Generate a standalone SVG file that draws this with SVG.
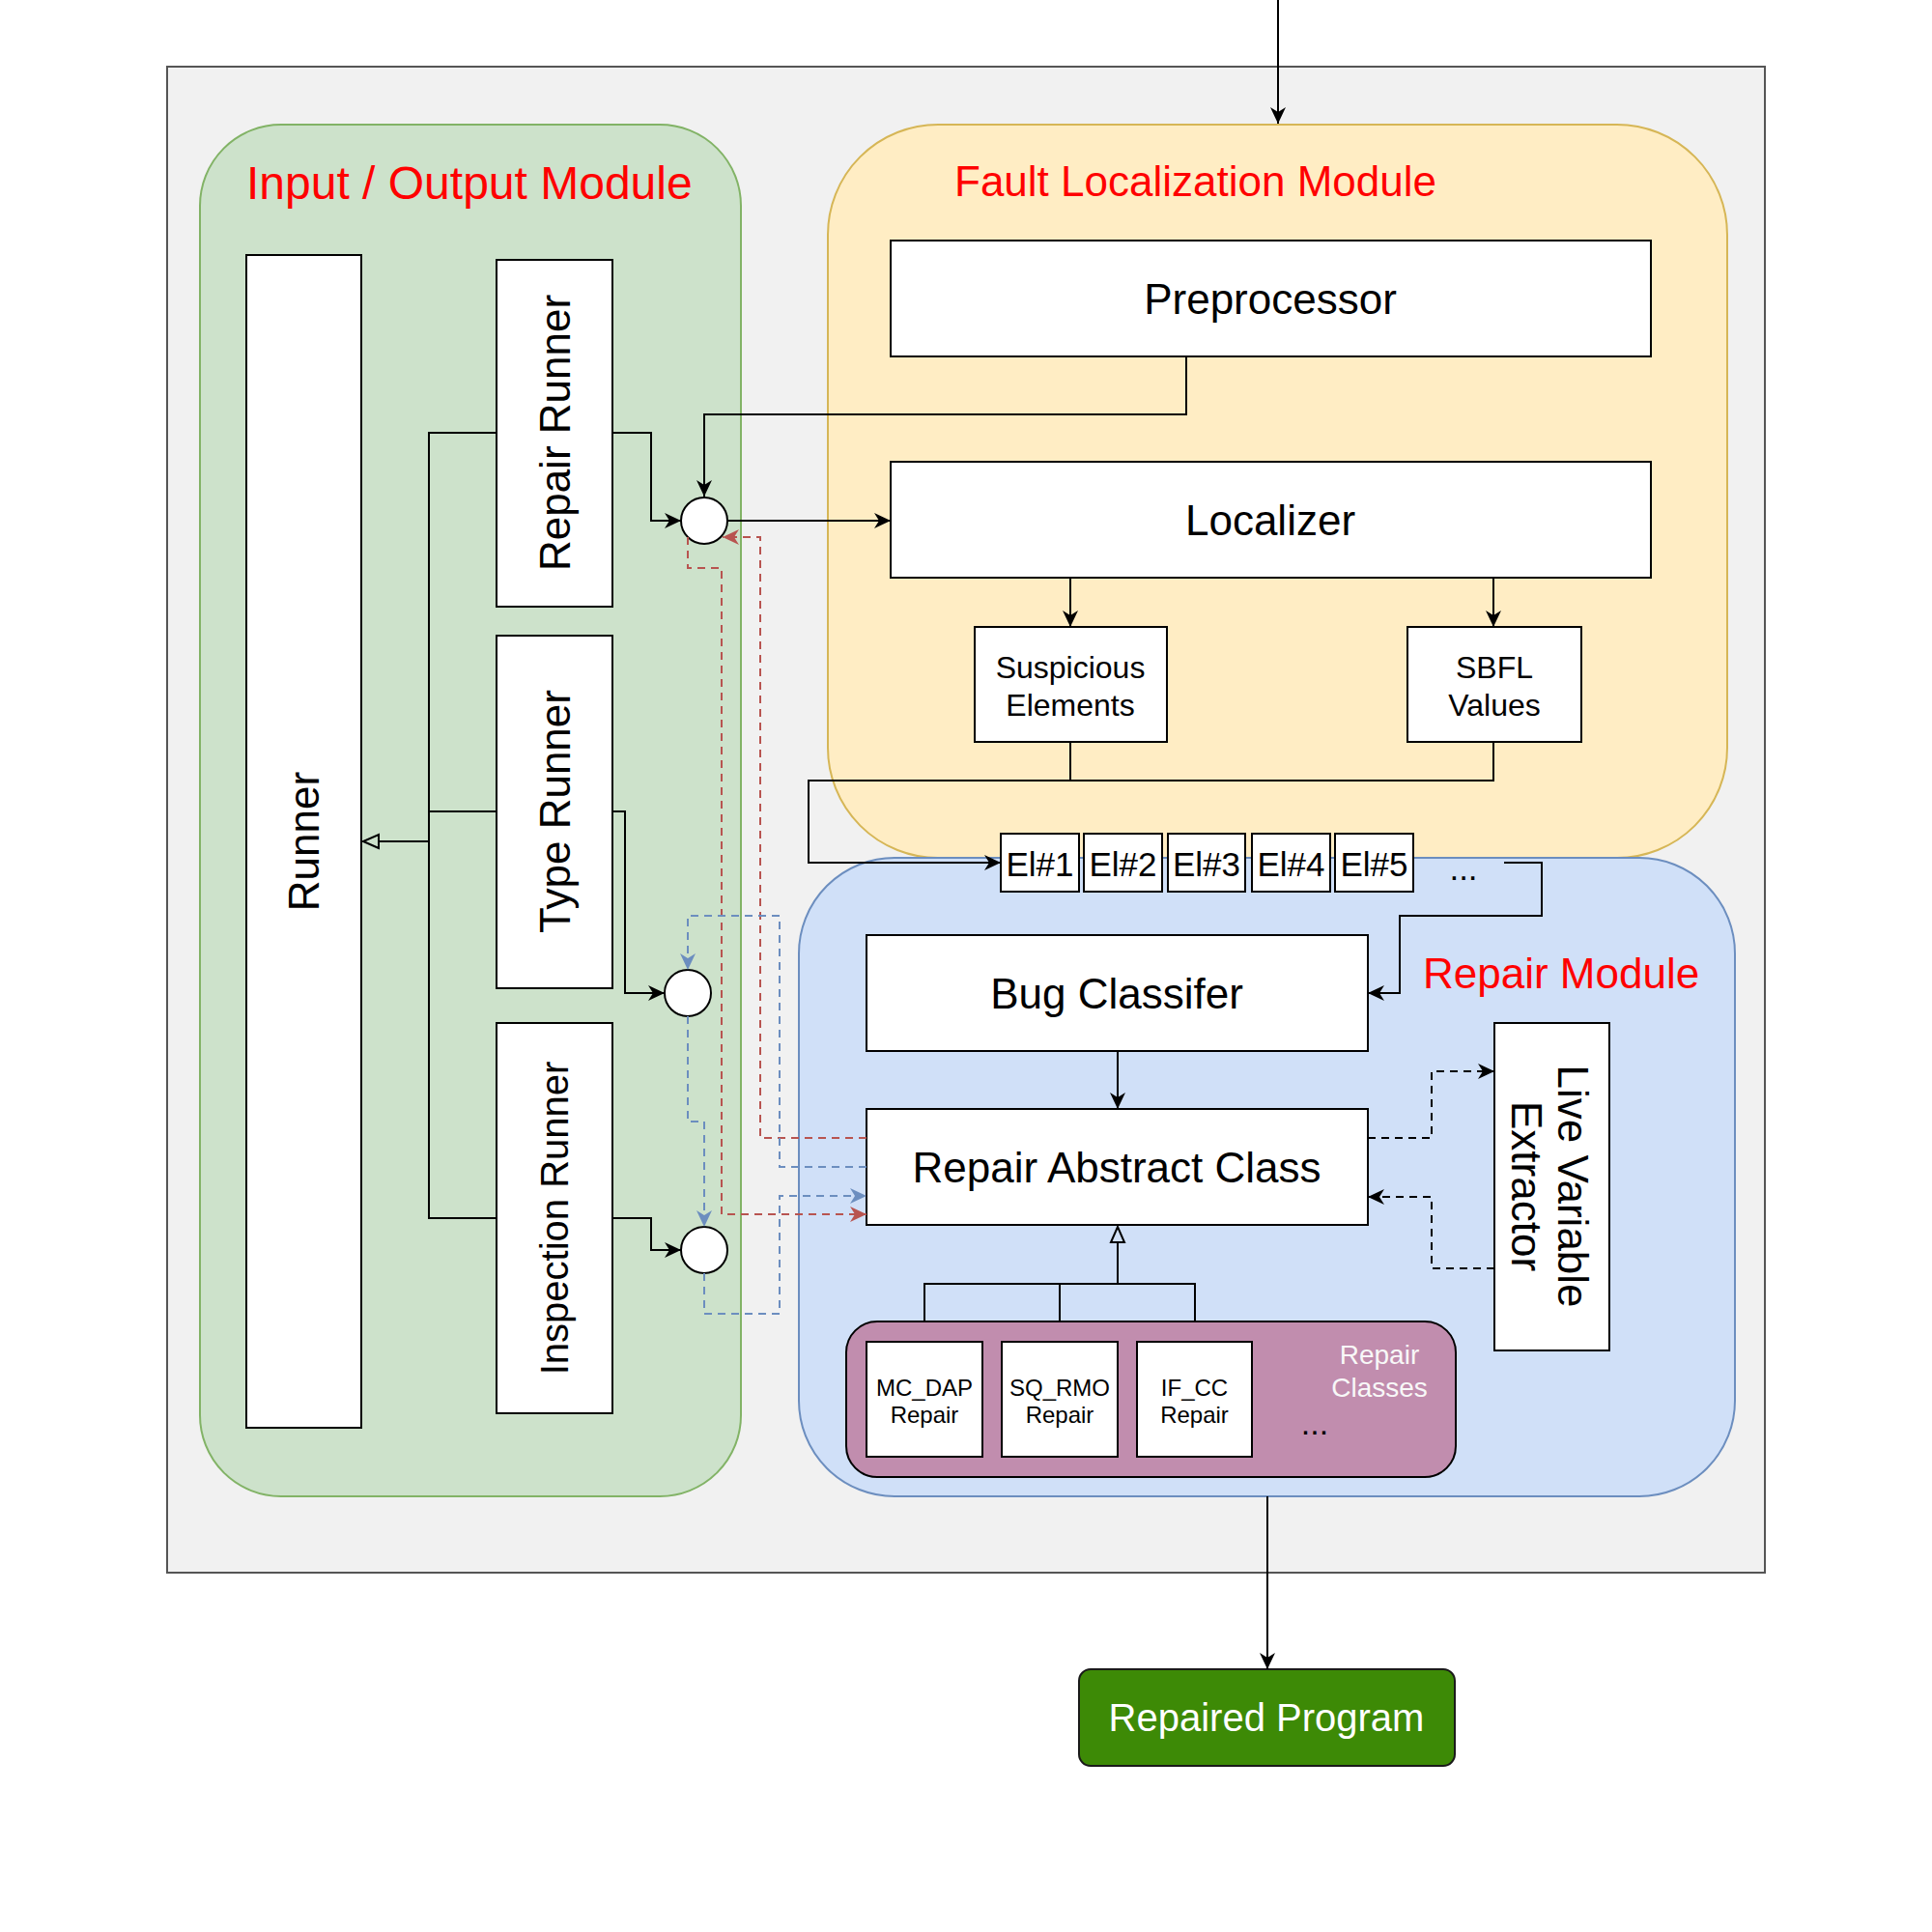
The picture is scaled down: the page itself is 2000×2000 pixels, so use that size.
<svg xmlns="http://www.w3.org/2000/svg" width="2000" height="2000" viewBox="0 0 2000 2000">
<style>
text{font-family:"Liberation Sans",Arial,Helvetica,sans-serif;fill:#000;}
.box{fill:#fff;stroke:#000;stroke-width:2;}
.c{text-anchor:middle;dominant-baseline:central;}
.t44{font-size:44px;}
.title{fill:#ff0000;font-size:44px;}
.ln{fill:none;stroke:#000;stroke-width:2;}
.red{fill:none;stroke:#b85450;stroke-width:2;stroke-dasharray:8 6;}
.blue{fill:none;stroke:#6c8ebf;stroke-width:2;stroke-dasharray:8 6;}
.blk{fill:none;stroke:#000;stroke-width:2;stroke-dasharray:8 6;}
</style>
<defs>
<marker id="arr" viewBox="0 0 18 16" refX="17" refY="8" markerWidth="18" markerHeight="16" orient="auto" markerUnits="userSpaceOnUse"><path d="M0,0 L17,8 L0,16 L5,8 Z" fill="#000"/></marker>
<marker id="arrR" viewBox="0 0 18 16" refX="17" refY="8" markerWidth="18" markerHeight="16" orient="auto" markerUnits="userSpaceOnUse"><path d="M0,0 L17,8 L0,16 L5,8 Z" fill="#b85450"/></marker>
<marker id="arrB" viewBox="0 0 18 16" refX="17" refY="8" markerWidth="18" markerHeight="16" orient="auto" markerUnits="userSpaceOnUse"><path d="M0,0 L17,8 L0,16 L5,8 Z" fill="#6c8ebf"/></marker>
<marker id="tri" viewBox="0 0 19 18" refX="1" refY="9" markerWidth="19" markerHeight="18" orient="auto" markerUnits="userSpaceOnUse"><path d="M1,2 L17,9 L1,16 Z" fill="none" stroke="#000" stroke-width="2"/></marker>
</defs>

<rect width="2000" height="2000" fill="#fff"/>

<g id="system">
<rect x="173" y="69" width="1654" height="1559" fill="#f1f1f1" stroke="#555" stroke-width="2"/>
</g>

<g id="io-module">
<rect x="207" y="129" width="560" height="1420" rx="84" ry="84" fill="#cde2cb" stroke="#82b366" stroke-width="2"/>
<text x="255" y="206" class="title" style="font-size:48px">Input / Output Module</text>
</g>

<g id="fl-module">
<rect x="857" y="129" width="931" height="759" rx="114" ry="114" fill="#ffedc4" stroke="#d6b656" stroke-width="2"/>
<text x="988" y="203" class="title">Fault Localization Module</text>
</g>

<g id="repair-module">
<rect x="827" y="888" width="969" height="661" rx="99" ry="99" fill="#d0e0f8" stroke="#6c8ebf" stroke-width="2"/>
<text x="1473" y="1023" class="title">Repair Module</text>
</g>

<g id="runner">
<rect x="255" y="264" width="119" height="1214" class="box"/>
<text class="c t44" transform="translate(314,871) rotate(-90)">Runner</text>
</g>
<g id="repair-runner">
<rect x="514" y="269" width="120" height="359" class="box"/>
<text class="c t44" transform="translate(574,448) rotate(-90)">Repair Runner</text>
</g>
<g id="type-runner">
<rect x="514" y="658" width="120" height="365" class="box"/>
<text class="c t44" transform="translate(574,840) rotate(-90)">Type Runner</text>
</g>
<g id="inspection-runner">
<rect x="514" y="1059" width="120" height="404" class="box"/>
<text class="c" style="font-size:40px" transform="translate(574,1261) rotate(-90)">Inspection Runner</text>
</g>

<g id="junction-1"><circle cx="729" cy="539" r="24" class="box"/></g>
<g id="junction-2"><circle cx="712" cy="1028" r="24" class="box"/></g>
<g id="junction-3"><circle cx="729" cy="1294" r="24" class="box"/></g>

<g id="preprocessor">
<rect x="922" y="249" width="787" height="120" class="box"/>
<text x="1315" y="309" class="c t44">Preprocessor</text>
</g>
<g id="localizer">
<rect x="922" y="478" width="787" height="120" class="box"/>
<text x="1315" y="538" class="c t44">Localizer</text>
</g>
<g id="suspicious-elements">
<rect x="1009" y="649" width="199" height="119" class="box"/>
<text x="1108" y="691" class="c" style="font-size:32px">Suspicious</text>
<text x="1108" y="730" class="c" style="font-size:32px">Elements</text>
</g>
<g id="sbfl-values">
<rect x="1457" y="649" width="180" height="119" class="box"/>
<text x="1547" y="691" class="c" style="font-size:32px">SBFL</text>
<text x="1547" y="730" class="c" style="font-size:32px">Values</text>
</g>

<g id="elements-list">
<rect x="1036" y="863" width="81" height="60" class="box"/>
<text x="1076.5" y="894" class="c" style="font-size:35px">El#1</text>
<rect x="1122" y="863" width="81" height="60" class="box"/>
<text x="1162.5" y="894" class="c" style="font-size:35px">El#2</text>
<rect x="1209" y="863" width="80" height="60" class="box"/>
<text x="1249" y="894" class="c" style="font-size:35px">El#3</text>
<rect x="1296" y="863" width="81" height="60" class="box"/>
<text x="1336.5" y="894" class="c" style="font-size:35px">El#4</text>
<rect x="1382" y="863" width="81" height="60" class="box"/>
<text x="1422.5" y="894" class="c" style="font-size:35px">El#5</text>
<text x="1515" y="911" text-anchor="middle" style="font-size:35px">...</text>
</g>

<g id="bug-classifier">
<rect x="897" y="968" width="519" height="120" class="box"/>
<text x="1156" y="1028" class="c t44">Bug Classifer</text>
</g>
<g id="repair-abstract-class">
<rect x="897" y="1148" width="519" height="120" class="box"/>
<text x="1156" y="1208" class="c t44">Repair Abstract Class</text>
</g>
<g id="live-variable-extractor">
<rect x="1547" y="1059" width="119" height="339" class="box"/>
<g transform="translate(1604,1228) rotate(90)">
<text x="0" y="-24" class="c t44">Live Variable</text>
<text x="0" y="24" class="c t44">Extractor</text>
</g>
</g>

<g id="repair-classes">
<rect x="876" y="1368" width="631" height="161" rx="32" ry="32" fill="#c18dae" stroke="#000" stroke-width="2"/>
<text x="1428" y="1402" class="c" style="font-size:28px;fill:#f8f8f8">Repair</text>
<text x="1428" y="1436" class="c" style="font-size:28px;fill:#f8f8f8">Classes</text>
<text x="1361" y="1485" text-anchor="middle" style="font-size:34px">...</text>
</g>
<g id="mc-dap-repair">
<rect x="897" y="1389" width="120" height="119" class="box"/>
<text x="957" y="1436" class="c" style="font-size:24px">MC_DAP</text>
<text x="957" y="1464" class="c" style="font-size:24px">Repair</text>
</g>
<g id="sq-rmo-repair">
<rect x="1037" y="1389" width="120" height="119" class="box"/>
<text x="1097" y="1436" class="c" style="font-size:24px">SQ_RMO</text>
<text x="1097" y="1464" class="c" style="font-size:24px">Repair</text>
</g>
<g id="if-cc-repair">
<rect x="1177" y="1389" width="119" height="119" class="box"/>
<text x="1236.5" y="1436" class="c" style="font-size:24px">IF_CC</text>
<text x="1236.5" y="1464" class="c" style="font-size:24px">Repair</text>
</g>

<g id="repaired-program">
<rect x="1117" y="1728" width="389" height="100" rx="12" ry="12" fill="#3d8a06" stroke="#1a1a1a" stroke-width="2"/>
<text x="1311" y="1778" class="c" style="font-size:40px;fill:#fff">Repaired Program</text>
</g>

<g id="connectors">
<path class="ln" d="M1323,0 V128" marker-end="url(#arr)"/>
<path class="ln" d="M1228,369 V429 H729 V514" marker-end="url(#arr)"/>
<path class="ln" d="M634,448 H674 V539 H705" marker-end="url(#arr)"/>
<path class="ln" d="M753,539 H922" marker-end="url(#arr)"/>
<path class="ln" d="M634,840 H647 V1028 H688" marker-end="url(#arr)"/>
<path class="ln" d="M634,1261 H674 V1294 H705" marker-end="url(#arr)"/>
<path class="ln" d="M514,448 H444 V1261 H514 M444,840 H514"/>
<path class="ln" d="M444,871 H392" marker-end="url(#tri)"/>
<path class="ln" d="M1108,598 V649" marker-end="url(#arr)"/>
<path class="ln" d="M1546,598 V649" marker-end="url(#arr)"/>
<path class="ln" d="M1108,768 V808 M1546,768 V808 H837 V893 H1036" marker-end="url(#arr)"/>
<path class="ln" d="M1557,893 H1596 V948 H1449 V1028 H1416" marker-end="url(#arr)"/>
<path class="ln" d="M1157,1088 V1148" marker-end="url(#arr)"/>
<path class="ln" d="M957,1368 V1329 H1237 V1368 M1097,1368 V1329"/>
<path class="ln" d="M1157,1329 V1286" marker-end="url(#tri)"/>
<path class="blk" d="M1416,1178 H1482 V1109 H1547" marker-end="url(#arr)"/>
<path class="blk" d="M1547,1313 H1482 V1239 H1416" marker-end="url(#arr)"/>
<path class="red" d="M897,1178 H787 V556 H748" marker-end="url(#arrR)"/>
<path class="red" d="M712,556 V588 H747 V1257 H897" marker-end="url(#arrR)"/>
<path class="blue" d="M897,1208 H807 V948 H712 V1004" marker-end="url(#arrB)"/>
<path class="blue" d="M712,1052 V1161 H729 V1270" marker-end="url(#arrB)"/>
<path class="blue" d="M729,1318 V1360 H807 V1238 H897" marker-end="url(#arrB)"/>
<path class="ln" d="M1312,1549 V1728" marker-end="url(#arr)"/>
</g>
</svg>
